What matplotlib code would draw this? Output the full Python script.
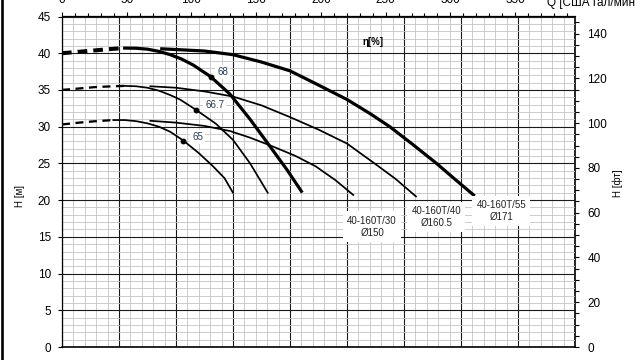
import matplotlib.pyplot as plt
from matplotlib.ticker import MultipleLocator, FixedLocator
from matplotlib.lines import Line2D

plt.rcParams['font.family'] = ['Liberation Sans', 'DejaVu Sans']

# Q in m3/h, H in m
# impeller 171
d171_dash_q = [0, 3, 6, 9, 11]
d171_dash_h = [40.0, 40.2, 40.4, 40.6, 40.7]
d171_steep_q = [11, 13, 15, 17, 19, 21, 23, 26.1, 29.5, 33, 36.5, 39.5, 42]
d171_steep_h = [40.7, 40.68, 40.55, 40.25, 39.8, 39.2, 38.4, 36.8, 34.4, 31.0, 27.3, 24.1, 21.2]
d171_flat_q = [17.5, 20, 25, 30, 35, 40, 44.4, 50, 54, 57.5, 61.5, 65.7, 69, 72.2]
d171_flat_h = [40.6, 40.5, 40.3, 39.8, 38.8, 37.6, 35.9, 33.7, 31.8, 30.0, 27.6, 25.0, 22.8, 20.7]

# impeller 160.5
d160_dash_q = [0, 3, 6, 9, 11]
d160_dash_h = [35.0, 35.2, 35.4, 35.5, 35.55]
d160_steep_q = [11, 13, 15, 17, 19, 20.7, 23.5, 27, 30, 33, 36.1]
d160_steep_h = [35.55, 35.5, 35.3, 34.9, 34.3, 33.7, 32.3, 30.4, 28.2, 25.0, 21.0]
d160_flat_q = [15.5, 20, 25, 30, 35, 40, 45, 50, 55, 58.5, 62.1]
d160_flat_h = [35.5, 35.3, 34.8, 34.1, 32.9, 31.3, 29.6, 27.7, 24.9, 22.9, 20.5]

# impeller 150
d150_dash_q = [0, 3, 6, 9]
d150_dash_h = [30.3, 30.55, 30.75, 30.9]
d150_steep_q = [9, 11, 13, 15, 17, 19, 21.3, 24, 26.5, 28.5, 30]
d150_steep_h = [30.9, 30.9, 30.75, 30.45, 30.0, 29.3, 28.1, 26.4, 24.6, 23.0, 21.0]
d150_flat_q = [15.5, 20, 25, 29.5, 33, 37, 41, 44.5, 48, 51.1]
d150_flat_h = [30.8, 30.55, 30.1, 29.4, 28.5, 27.3, 26.0, 24.6, 22.7, 20.7]

# efficiency marks
eta_q = [26.1, 23.5, 21.3]
eta_h = [36.8, 32.3, 28.1]
eta_labels = ['68', '66.7', '65']
eta_label_q = [28.2, 26.8, 23.8]
eta_label_h = [37.5, 32.9, 28.6]

pump_labels = ['40-160T/30\nØ150', '40-160T/40\nØ160.5', '40-160T/55\nØ171']
pump_label_q = [54.4, 65.7, 77.1]
pump_label_h = [16.4, 17.7, 18.5]

gpm_ticks = [0, 50, 100, 150, 200, 250, 300, 350]

M3H_TO_GPM = 4.40287
M_TO_FT = 3.28084

fig = plt.figure(figsize=(6.35, 3.6), dpi=100)
ax = fig.add_axes([62/635, 13/360, 513/635, 330.5/360])
ax.set_xlim(0, 90)
ax.set_ylim(0, 45)

ax.xaxis.set_major_locator(MultipleLocator(10))
ax.xaxis.set_minor_locator(MultipleLocator(2))
ax.yaxis.set_major_locator(MultipleLocator(5))
ax.yaxis.set_minor_locator(MultipleLocator(1))
ax.grid(which='minor', color='#c4c4c4', lw=0.6)
ax.grid(which='major', color='#1a1a1a', lw=0.8)
ax.set_axisbelow(True)
ax.tick_params(axis='x', which='both', length=0, labelbottom=False)
ax.tick_params(axis='y', which='major', length=3, width=0.8, pad=5, labelsize=8.5)
ax.tick_params(axis='y', which='minor', length=0)
for s in ['top', 'right']:
    ax.spines[s].set_visible(False)
ax.spines['left'].set_linewidth(0.9)
ax.spines['bottom'].set_linewidth(1.2)

thick = 2.3
thin = 1.25
ax.plot(d171_dash_q, d171_dash_h, color='black', lw=thick + 0.6, dashes=(2.4, 1.5), solid_capstyle='butt')
ax.plot(d171_steep_q, d171_steep_h, color='black', lw=thick)
ax.plot(d171_flat_q, d171_flat_h, color='black', lw=thick)
ax.plot(d160_dash_q, d160_dash_h, color='black', lw=thin + 0.4, dashes=(3.5, 2.4))
ax.plot(d160_steep_q, d160_steep_h, color='black', lw=thin)
ax.plot(d160_flat_q, d160_flat_h, color='black', lw=thin)
ax.plot(d150_dash_q, d150_dash_h, color='black', lw=thin + 0.4, dashes=(3.5, 2.4))
ax.plot(d150_steep_q, d150_steep_h, color='black', lw=thin)
ax.plot(d150_flat_q, d150_flat_h, color='black', lw=thin)

ax.plot(eta_q, eta_h, 'o', color='black', ms=3.2)
for lab, q, h in zip(eta_labels, eta_label_q, eta_label_h):
    ax.text(q, h, lab, fontsize=7, color='#2b3a55', ha='center', va='center',
            bbox=dict(facecolor='white', edgecolor='none', pad=1.5), zorder=3)

for lab, q, h in zip(pump_labels, pump_label_q, pump_label_h):
    ax.text(q, h, lab, fontsize=7, color='#222222', ha='center', va='center',
            linespacing=1.25, bbox=dict(facecolor='white', edgecolor='none', pad=3), zorder=3)

ax.text(54.6, 41.5, 'η[%]', fontsize=7, fontweight='bold', ha='center', va='center')

ax.text(-7.3, 20.5, 'H [м]', fontsize=7, rotation=90, ha='center', va='center')

top = ax.secondary_xaxis('top', functions=(lambda q: q * M3H_TO_GPM, lambda g: g / M3H_TO_GPM))
top.xaxis.set_major_locator(FixedLocator(gpm_ticks))
top.xaxis.set_minor_locator(FixedLocator(list(range(0, 391, 10))))
top.tick_params(which='major', length=3, width=0.8, pad=4.5, labelsize=8.5)
top.tick_params(which='minor', length=2, width=0.8)
top.spines['top'].set_linewidth(0.9)

right = ax.secondary_yaxis('right', functions=(lambda h: h * M_TO_FT, lambda f: f / M_TO_FT))
right.yaxis.set_major_locator(MultipleLocator(20))
right.yaxis.set_minor_locator(MultipleLocator(5))
right.tick_params(which='major', length=3, width=0.8, pad=6, labelsize=8.5)
right.tick_params(which='minor', length=3, width=0.8)
right.spines['right'].set_linewidth(1.2)

fig.text(547/635, 1 - 6/360, 'Q [США гал/мин]', fontsize=8.5, va='baseline', ha='left')
fig.text(618/635, 1 - 183/360, 'H [фт]', fontsize=7, rotation=90, ha='center', va='center')

fig.add_artist(Line2D([1.6/635, 1.6/635], [0, 1], color='black', lw=1.9, transform=fig.transFigure))

fig.savefig('out.png', dpi=100)
